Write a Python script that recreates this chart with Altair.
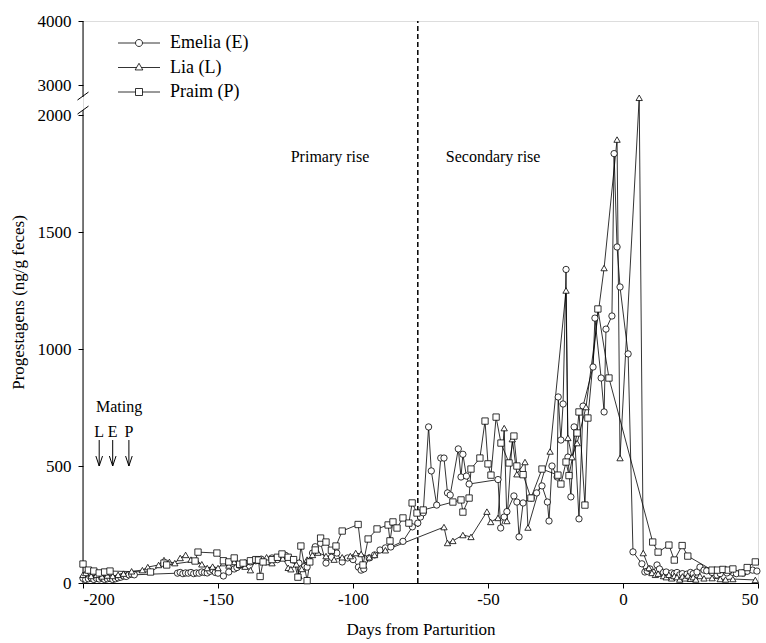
import altair as alt
import pandas as pd

# ---------------- data ----------------
names = ["Emelia", "Lia", "Praim"]
legend_labels = ["Emelia (E)", "Lia (L)", "Praim (P)"]

emelia_days = [-200, -199, -198, -197, -196, -195, -194, -193, -192, -191,
               -190, -189, -188, -187, -186, -185, -184, -183, -182, -181,
               -165, -164, -163, -162, -161, -160, -159, -158, -157, -156,
               -155, -154, -153, -152, -151, -150, -148, -146, -144, -143,
               -142, -140, -138, -136, -134, -132, -130, -128, -127, -125,
               -122, -120, -118, -117, -115, -114, -112, -110, -108, -106,
               -104, -102, -100, -98, -97, -96, -94, -92, -90, -88,
               -86, -81.5, -78, -76, -75, -74, -72, -71, -69, -67.5,
               -66.3, -65, -64, -61, -60, -59.3, -58, -57, -46.3, -45.3,
               -44, -43, -40.4, -39.3, -38.5, -37, -34, -32, -30, -28,
               -27.4, -26.3, -24.4, -24, -23, -22.2, -21.1, -20.4, -19.3, -18.1,
               -16.3, -14.8, -11.1, -10.4, -8.1, -7, -6.3, -4.1, -3.3, -2.2,
               -1.1, 1.9, 3.7, 7, 8.1, 9, 10, 11, 12.6, 13.5,
               15, 16, 18, 19, 20, 21, 22, 23.7, 25, 26,
               27.4, 28.5, 30, 31, 33, 34.8, 36, 38.5, 40.7, 42,
               44.4, 46, 48, 49.6]
emelia_vals = [20, 15, 18, 22, 15, 20, 17, 22, 15, 18,
               20, 15, 18, 22, 25, 30, 28, 35, 38, 35,
               42, 45, 40, 43, 42, 45, 40, 43, 42, 47,
               45, 43, 50, 56, 45, 42, 30, 47, 60, 66,
               75, 85, 90, 95, 102, 90, 107, 100, 111, 118,
               98, 85, 70, 68, 128, 155, 170, 85, 110, 128,
               90, 107, 100, 68, 55, 60, 107, 120, 141, 150,
               154, 178, 240, 256, 282, 300, 667, 479, 333, 534,
               534, 385, 376, 573, 453, 550, 457, 423, 442, 235,
               282, 305, 372, 346, 197, 342, 363, 385, 415, 346,
               265, 500, 453, 795, 611, 765, 1340, 538, 368, 667,
               274, 756, 923, 1132, 876, 731, 1085, 1141, 1835, 1436,
               1265, 979, 133, 82, 47, 50, 60, 45, 77, 60,
               45, 47, 43, 40, 45, 35, 40, 38, 45, 40,
               47, 68, 55, 52, 45, 34, 40, 43, 45, 40,
               43, 50, 55, 51]

lia_days = [-200, -199, -197, -195, -193, -191, -189, -187, -185, -182,
            -178, -176, -172, -170, -168, -166, -164, -162, -160, -158,
            -156, -154, -152, -150, -148, -146, -144, -142, -140, -138,
            -136, -134, -132, -130, -128, -126, -124, -123, -121, -120,
            -119, -117, -115, -113, -110, -107, -104, -101, -99, -97,
            -94, -92, -88, -66.3, -65, -63, -59.3, -56.3, -50.4, -49,
            -46.3, -44, -43, -41, -39.3, -36.3, -35.2, -27, -21.1, -20.4,
            -18.9, -17, -13.7, -7, -2.2, -1.1, 6, 7.5, 9.6, 10.7,
            12, 13, 15, 16, 17, 18, 19, 20, 21, 22,
            23, 24, 25, 26, 27, 28.5, 30, 33, 36, 38,
            40.7, 49]
lia_vals = [35, 43, 30, 35, 28, 32, 30, 35, 40, 50,
            55, 68, 77, 98, 90, 85, 107, 120, 100, 95,
            80, 64, 70, 64, 85, 75, 90, 80, 70, 55,
            100, 95, 110, 85, 110, 105, 65, 59, 80, 30,
            60, 100, 120, 130, 115, 100, 110, 115, 128, 124,
            110, 120, 140, 239, 171, 180, 205, 197, 305, 261,
            278, 662, 265, 615, 465, 517, 237, 562, 1250, 620,
            538, 598, 752, 1346, 1895, 534, 2800, 128, 64, 43,
            35, 40, 30, 25, 35, 20, 30, 25, 15, 28,
            20, 32, 18, 25, 15, 30, 20, 21, 17, 15,
            17, 13]

praim_days = [-200, -198, -196, -194, -192, -190, -175, -170, -169, -158.5,
              -157.4, -150.4, -148, -146, -144, -142, -140.7, -138, -136, -135,
              -134.4, -133.3, -130, -128, -126.3, -124, -122, -120.4, -119.3, -117,
              -116, -114, -112, -110, -108, -106.3, -104, -98.1, -96.3, -94.4,
              -91.1, -87, -86.3, -85.2, -83.7, -81.5, -79.3, -78.1, -76.3, -74,
              -63, -60, -59.3, -57, -56.3, -53, -51.1, -50, -48.9, -47,
              -45.2, -42.2, -40.4, -39.3, -37, -34.1, -30, -24.1, -23, -21.1,
              -20, -17, -16.3, -14.1, -13, -9.3, -5.2, 11, 13, 17,
              19, 21.9, 24, 33, 35, 37, 39, 40.7, 44, 46,
              49]
praim_vals = [81, 55, 51, 43, 47, 51, 47, 85, 77, 94,
              132, 128, 95, 90, 107, 80, 85, 95, 100, 98,
              28, 90, 100, 110, 124, 110, 100, 25, 158, 10,
              90, 141, 192, 175, 140, 158, 222, 250, 77, 188,
              231, 248, 180, 261, 235, 278, 256, 342, 299, 312,
              346, 355, 303, 363, 487, 534, 692, 509, 461, 709,
              598, 513, 628, 500, 463, 363, 487, 461, 423, 517,
              459, 641, 731, 333, 705, 1171, 876, 175, 132, 162,
              98, 160, 115, 55, 55, 58, 55, 60, 43, 66,
              90]

x_ticks = [-200, -150, -100, -50, 0, 50]
y_low_ticks = [0, 500, 1000, 1500, 2000]
y_high_ticks = [3000, 4000]

parturition_split = -76           # day of the dashed line
mating_letters = ["L", "E", "P"]
mating_days = [-194, -189, -183]

# ---------------- broken y axis: map values to a drawing coordinate ----------------
LOW_TOP = 2000.0
GAP_T = 2000.0 * 30 / 468          # space between 2000 and 3000
UP_T_PER_1000 = 2000.0 * 64 / 468  # compressed upper segment


def to_t(v):
    if v <= LOW_TOP:
        return float(v)
    return LOW_TOP + GAP_T + (v - 3000.0) * UP_T_PER_1000 / 1000.0


T3000 = to_t(3000)
T4000 = to_t(4000)

rows = []
for nm, ds, vs in zip(names, [emelia_days, lia_days, praim_days],
                      [emelia_vals, lia_vals, praim_vals]):
    assert len(ds) == len(vs), nm
    for d, v in zip(ds, vs):
        rows.append({"Subject": nm, "Day": d, "Value": v, "T": to_t(v)})
df = pd.DataFrame(rows)

FONT = "Liberation Serif"
XT = "Days from Parturition"
YT = "Progestagens (ng/g feces)"

xscale = alt.Scale(domain=[-200, 50], nice=False, zero=False)
yscale = alt.Scale(domain=[0, T4000], nice=False, zero=False)

x_axis = alt.Axis(values=x_ticks, labelExpr="'' + datum.value", title=XT,
                  grid=False, tickSize=5, labelPadding=3, titlePadding=14,
                  labelFont=FONT, labelFontSize=17, titleFont=FONT,
                  titleFontSize=17, titleFontWeight="normal",
                  labelColor="black", titleColor="black",
                  domainColor="black", tickColor="black")
y_axis = alt.Axis(values=y_low_ticks + [T3000, T4000],
                  labelExpr=(f"datum.value > {T4000 - 1} ? '4000' : "
                             f"(datum.value > {T3000 - 1} ? '3000' : '' + datum.value)"),
                  title=YT, grid=False, domain=False, tickSize=5,
                  labelPadding=7, titlePadding=10,
                  labelFont=FONT, labelFontSize=17, titleFont=FONT,
                  titleFontSize=17, titleFontWeight="normal",
                  labelColor="black", titleColor="black", tickColor="black")


def X(field="Day"):
    return alt.X(f"{field}:Q", scale=xscale, axis=x_axis, title=XT)


def Y(field="T"):
    return alt.Y(f"{field}:Q", scale=yscale, axis=y_axis, title=YT)


base = alt.Chart(df)

lines = base.mark_line(color="black", strokeWidth=0.8).encode(
    x=X(), y=Y(), detail="Subject:N")

points = base.mark_point(filled=True, fill="white", stroke="black",
                         strokeWidth=0.8, size=40, opacity=1).encode(
    x=X(), y=Y(),
    shape=alt.Shape("Subject:N",
                    scale=alt.Scale(domain=names,
                                    range=["circle", "triangle-up", "square"]),
                    legend=None))

# legend (line + marker symbols)
leg_paths = [
    "M-3,0H-0.5M0.5,0H3M0.5,0A0.5,0.5,0,1,1,-0.5,0A0.5,0.5,0,1,1,0.5,0Z",
    "M-3,0H-0.35M0.35,0H3M0,-0.6L0.55,0.35L-0.55,0.35Z",
    "M-3,0H-0.5M0.5,0H3M-0.5,-0.5H0.5V0.5H-0.5Z",
]
leg_df = pd.DataFrame({"Legend": legend_labels, "Day": [-300] * 3, "T": [0] * 3})
legend_layer = alt.Chart(leg_df).mark_point(
    filled=True, fill="white", stroke="black", strokeWidth=0.8, clip=True,
    opacity=1).encode(
    x=X(), y=Y(),
    shape=alt.Shape("Legend:N",
                    scale=alt.Scale(domain=legend_labels, range=leg_paths),
                    legend=alt.Legend(title=None, orient="none", legendX=47,
                                      legendY=13, labelFont=FONT,
                                      labelFontSize=18, labelColor="black",
                                      symbolSize=196, labelOffset=22,
                                      rowPadding=6.5, padding=0,
                                      symbolStrokeWidth=0.8)))

# dashed separator
dash_df = pd.DataFrame({"Day": [parturition_split], "T0": [0.0], "T1": [T4000]})
dash = alt.Chart(dash_df).mark_rule(color="black", strokeWidth=1.5,
                                    strokeDash=[5, 3]).encode(
    x=X(), y=Y("T0"), y2="T1:Q")

# broken y axis line and break marks
ax_df = pd.DataFrame({"Day": [-200, -200], "T0": [0.0, 2077.0],
                      "T1": [2021.0, T4000]})
axis_line = alt.Chart(ax_df).mark_rule(color="black", strokeWidth=1).encode(
    x=X(), y=Y("T0"), y2="T1:Q")
brk_df = pd.DataFrame({"Day": [-202.04, -202.04], "Day2": [-197.96, -197.96],
                       "T0": [2064.0, 2004.0], "T1": [2098.0, 2038.0]})
breaks = alt.Chart(brk_df).mark_rule(color="black", strokeWidth=1).encode(
    x=X(), x2="Day2:Q", y=Y("T0"), y2="T1:Q")

# phase labels
phase_df = pd.DataFrame({"Day": [-108.5, -48.1], "T": [1820.0, 1820.0],
                         "Label": ["Primary rise", "Secondary rise"]})
phases = alt.Chart(phase_df).mark_text(font=FONT, fontSize=16, color="black",
                                       align="center", baseline="middle").encode(
    x=X(), y=Y(), text="Label:N")

# mating annotation
mat_title = alt.Chart(pd.DataFrame({"Day": [-195.2], "T": [752.0],
                                    "Label": ["Mating"]})).mark_text(
    font=FONT, fontSize=16, color="black", align="left",
    baseline="middle").encode(x=X(), y=Y(), text="Label:N")
mat_df = pd.DataFrame({"Day": mating_days, "Letter": mating_letters,
                       "TL": [645.0] * 3, "T0": [611.0] * 3, "T1": [500.0] * 3})
mat_letters = alt.Chart(mat_df).mark_text(font=FONT, fontSize=16, color="black",
                                          align="center",
                                          baseline="middle").encode(
    x=X(), y=Y("TL"), text="Letter:N")
mat_shafts = alt.Chart(mat_df).mark_rule(color="black", strokeWidth=1).encode(
    x=X(), y=Y("T0"), y2="T1:Q")
mat_heads = alt.Chart(mat_df).mark_point(
    shape="M-1,-3L0,0L1,-3", filled=False, stroke="black", strokeWidth=1,
    size=44, opacity=1).encode(x=X(), y=Y("T1"))

chart = alt.layer(
    axis_line, breaks, dash, lines, points, phases, mat_title, mat_letters,
    mat_shafts, mat_heads, legend_layer
).resolve_scale(shape="independent").properties(
    width=675, height=562,
    autosize=alt.AutoSizeParams(type="none"),
    padding={"left": 83, "top": 21, "right": 8, "bottom": 60},
).configure_view(stroke=None).configure(background="white", font=FONT)

chart.save("out.html", embed_options={"renderer": "svg", "actions": False})
